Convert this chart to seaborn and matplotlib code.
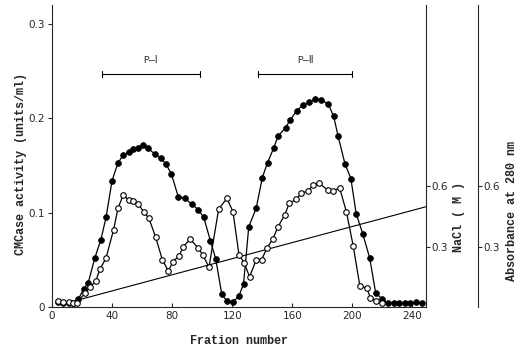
import matplotlib
matplotlib.use("Agg")
import matplotlib.pyplot as plt
import seaborn as sns
import pandas as pd

# CMCase activity (filled circles), units/ml
fraction_act = [4, 7.5, 11, 14, 17.5, 21, 24, 28.5, 32.5, 36,
                40, 44, 47.5, 51, 54, 57, 60.5, 64, 68.5, 72.5,
                76, 79.5, 84, 88.5, 93, 97.5, 101, 105.5, 109, 113,
                116.5, 120.5, 124.5, 127.5, 131, 136, 140, 143.5, 147.5, 150.5,
                155.5, 158.5, 163, 167, 171, 175, 179, 184, 187.5, 190.5,
                195, 199, 202.5, 207, 211.5, 215.5, 219.5, 223.5, 227.5, 231,
                235, 238.5, 242.5, 246.5]
activity = [0.005, 0.004, 0.004, 0.004, 0.008, 0.019, 0.025, 0.052, 0.071, 0.095,
            0.134, 0.153, 0.161, 0.164, 0.167, 0.169, 0.172, 0.168, 0.162, 0.158,
            0.151, 0.141, 0.117, 0.115, 0.109, 0.103, 0.095, 0.070, 0.051, 0.014,
            0.006, 0.005, 0.012, 0.024, 0.085, 0.105, 0.137, 0.153, 0.168, 0.181,
            0.190, 0.198, 0.208, 0.214, 0.217, 0.220, 0.2195, 0.215, 0.202, 0.181,
            0.152, 0.136, 0.099, 0.077, 0.052, 0.015, 0.009, 0.004, 0.004, 0.004,
            0.004, 0.004, 0.005, 0.004]

# Absorbance at 280 nm (open circles)
fraction_abs = [4, 7.5, 11, 14, 16.5, 22, 25.5, 29, 32, 36,
                41, 44, 47.5, 51, 54, 57.5, 61, 64.5, 69, 73.5,
                77.5, 80.5, 84.5, 87.5, 92, 97, 100.5, 104.5, 111, 116.5,
                120.5, 124.5, 128, 131.5, 136, 139.5, 143, 147, 150.5, 155,
                158, 162.5, 166, 170.5, 174, 178, 183.5, 187, 191.5, 196,
                200.5, 205, 209.5, 212, 216, 219.5]
absorbance = [0.031, 0.026, 0.023, 0.019, 0.022, 0.068, 0.101, 0.127, 0.188, 0.244,
              0.384, 0.492, 0.558, 0.530, 0.525, 0.511, 0.473, 0.441, 0.347, 0.234,
              0.178, 0.225, 0.253, 0.300, 0.338, 0.295, 0.258, 0.197, 0.488, 0.539,
              0.473, 0.258, 0.220, 0.150, 0.234, 0.234, 0.291, 0.338, 0.398, 0.459,
              0.516, 0.534, 0.565, 0.577, 0.605, 0.614, 0.581, 0.577, 0.591, 0.473,
              0.305, 0.103, 0.094, 0.047, 0.031, 0.019]

# NaCl gradient (M)
fraction_nacl = [20, 250]
nacl = [0.04, 0.50]

# pooled fractions
pool_names = ["P\u2014\u2160", "P\u2014\u2161"]
pool_start = [33, 137]
pool_end = [98.5, 200]

x_ticks = [0, 40, 80, 120, 160, 200, 240]
y_ticks = [0, 0.1, 0.2, 0.3]
y_ticklabels = ["0", "0.1", "0.2", "0.3"]
right_ticks = [0.3, 0.6]

sns.set_style("ticks")
mono = ["Liberation Mono", "DejaVu Sans Mono", "DejaVu Sans"]
plt.rcParams["font.family"] = ["DejaVu Sans"]

fig = plt.figure(figsize=(5.23, 3.51), dpi=100)
ax = fig.add_axes([52 / 523, 1 - 307 / 351, 374 / 523, 302 / 351])
ax_n = ax.twinx()
ax_a = ax.twinx()
ax_a.spines["right"].set_position(("axes", (478 - 52) / 374))

df_act = pd.DataFrame({"fraction": fraction_act, "value": activity})
df_abs = pd.DataFrame({"fraction": fraction_abs, "value": absorbance})
df_n = pd.DataFrame({"fraction": fraction_nacl, "value": nacl})

sns.lineplot(data=df_n, x="fraction", y="value", ax=ax_n, color="black", lw=0.8)
sns.lineplot(data=df_abs, x="fraction", y="value", ax=ax_a, color="black", lw=0.9,
             marker="o", markersize=4.0, markerfacecolor="white",
             markeredgecolor="black", markeredgewidth=0.8)
sns.lineplot(data=df_act, x="fraction", y="value", ax=ax, color="black", lw=0.9,
             marker="o", markersize=4.2, markerfacecolor="black",
             markeredgecolor="black", markeredgewidth=0.5)

for a in (ax, ax_n, ax_a):
    a.set_xlim(0, 249)
ax.set_ylim(0, 0.32)
ax_n.set_ylim(0, 1.5)
ax_a.set_ylim(0, 1.5)

# pool bars
for name, s, e in zip(pool_names, pool_start, pool_end):
    ax.plot([s, e], [0.247, 0.247], color="black", lw=0.8)
    ax.plot([s, s], [0.244, 0.250], color="black", lw=0.8)
    ax.plot([e, e], [0.244, 0.250], color="black", lw=0.8)
    ax.text((s + e) / 2, 0.262, name, ha="center", va="center", fontsize=7,
            family=mono)

ax.set_xticks(x_ticks)
ax.set_xticklabels([str(t) for t in x_ticks])
ax.set_yticks(y_ticks)
ax.set_yticklabels(y_ticklabels)
ax.tick_params(axis="x", direction="in", length=3, labelsize=7.5, pad=3, width=0.8)
ax.tick_params(axis="y", direction="out", length=3, labelsize=7.5, pad=2, width=0.8)
ax.set_xlabel("Fration number", family=mono, fontsize=8.5, weight="bold", labelpad=10)
ax.set_ylabel("CMCase activity (units/ml)", family=mono, fontsize=8.5, weight="bold")
ax.yaxis.label.set_va("center")
ax.yaxis.set_label_coords((21 - 52) / 374, (307 - 164) / 302)

for a, lab, xc, yc in ((ax_n, "NaCl ( M )", 459, 217),
                       (ax_a, "Absorbance at 280 nm", 512, 211)):
    a.set_yticks(right_ticks)
    a.set_yticklabels(["0.3", "0.6"])
    a.tick_params(axis="y", direction="out", length=3, labelsize=7.5, pad=1, width=0.8)
    a.set_ylabel(lab, family=mono, fontsize=8.5, weight="bold")
    a.yaxis.label.set_va("center")
    a.yaxis.set_label_coords((xc - 52) / 374, (307 - yc) / 302)
    a.spines["top"].set_visible(False)
    a.spines["left"].set_visible(False)
    a.spines["bottom"].set_visible(False)
    a.spines["right"].set_linewidth(0.8)

ax.spines["top"].set_visible(False)
ax.spines["right"].set_visible(False)
for sp in ("left", "bottom"):
    ax.spines[sp].set_linewidth(0.8)

fig.savefig("out.png", dpi=100)
